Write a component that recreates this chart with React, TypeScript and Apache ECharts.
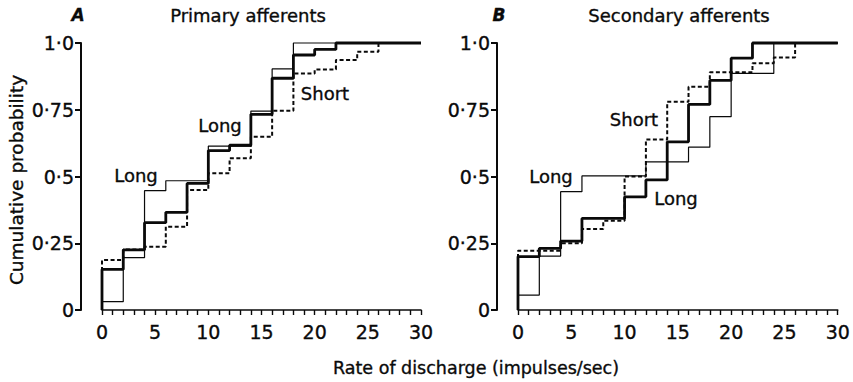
import React, { useEffect, useRef } from "react";
import * as echarts from "echarts";

// Bin left edges (impulses/sec) and cumulative probability per 2-imp/s bin
const binEdges = [0, 2, 4, 6, 8, 10, 12, 14, 16, 18, 20, 22, 24, 26, 28];
const xMax = 30;
const xLabelStep = 5;

// Panel A: Primary afferents
const primaryLongThin = [0.031, 0.196, 0.447, 0.484, 0.484, 0.614, 0.614, 0.745, 0.903, 1, 1, 1, 1, 1, 1];
const primaryLongThick = [0.152, 0.225, 0.327, 0.366, 0.474, 0.597, 0.617, 0.733, 0.868, 0.955, 0.976, 1, 1, 1, 1];
const primaryShort = [0.187, 0.227, 0.237, 0.312, 0.449, 0.512, 0.568, 0.649, 0.746, 0.886, 0.901, 0.936, 0.967, 1, 1];

// Panel B: Secondary afferents
const secondaryLongThin = [0.056, 0.202, 0.443, 0.502, 0.502, 0.502, 0.555, 0.555, 0.61, 0.724, 0.886, 0.886, 1, 1, 1];
const secondaryLongThick = [0.2, 0.231, 0.258, 0.343, 0.343, 0.424, 0.487, 0.63, 0.77, 0.86, 0.943, 1, 1, 1, 1];
const secondaryShort = [0.222, 0.222, 0.25, 0.303, 0.334, 0.5, 0.639, 0.78, 0.836, 0.89, 0.89, 0.924, 0.946, 1, 1];

const yTickValues = [0, 0.25, 0.5, 0.75, 1];
const yTickLabels = ["0", "0·25", "0·5", "0·75", "1·0"];

const FONT = '"DejaVu Sans", "Liberation Sans", sans-serif';
const INK = "#0a0a0a";
const HEAVY = 0.35;

function stepData(values: number[]) {
  const pts: number[][] = [[binEdges[0], 0]];
  values.forEach((v, i) => pts.push([binEdges[i], v]));
  pts.push([xMax, values[values.length - 1]]);
  return pts;
}

function lineSeries(values: number[], idx: number, kind: "thin" | "thick" | "dash") {
  const style: any = { color: INK };
  if (kind === "thin") style.width = 1.2;
  if (kind === "thick") style.width = 2.8;
  if (kind === "dash") {
    style.width = 2;
    style.type = [4, 2.5];
  }
  return {
    type: "line",
    xAxisIndex: idx,
    yAxisIndex: idx,
    data: stepData(values),
    step: "end",
    symbol: "none",
    clip: false,
    lineStyle: style,
    z: kind === "thick" ? 4 : 3,
  };
}

function xAxisCfg(gridIndex: number) {
  return {
    type: "value",
    gridIndex,
    position: "bottom",
    min: 0,
    max: xMax,
    interval: 1,
    axisLine: { show: true, onZero: false, lineStyle: { color: INK, width: 1.6 } },
    axisTick: { show: true, length: 5, lineStyle: { color: INK, width: 1.4 } },
    axisLabel: {
      fontSize: 19,
      margin: 12,
      color: INK,
      fontFamily: FONT,
      textBorderColor: INK,
      textBorderWidth: HEAVY,
      formatter: (v: number) => (Math.round(v) % xLabelStep === 0 ? String(Math.round(v)) : ""),
    },
    splitLine: { show: false },
  };
}

function yAxisCfg(gridIndex: number) {
  return {
    type: "value",
    gridIndex,
    position: "left",
    min: 0,
    max: 1,
    interval: 0.25,
    offset: 21,
    axisLine: { show: true, onZero: false, lineStyle: { color: INK, width: 2 } },
    axisTick: { show: true, length: 6, lineStyle: { color: INK, width: 2 } },
    axisLabel: {
      fontSize: 19,
      margin: 7,
      color: INK,
      fontFamily: FONT,
      textBorderColor: INK,
      textBorderWidth: HEAVY,
      formatter: (v: number) => {
        const i = yTickValues.findIndex((t) => Math.abs(t - v) < 1e-9);
        return i >= 0 ? yTickLabels[i] : "";
      },
    },
    splitLine: { show: false },
  };
}

function txt(x: number, y: number, text: string, size: number, extra: any = {}) {
  return {
    type: "text",
    x,
    y,
    silent: true,
    style: {
      text,
      fill: INK,
      stroke: INK,
      lineWidth: HEAVY,
      font: `${extra.italic ? "italic " : ""}${extra.bold ? "bold " : ""}${size}px ${FONT}`,
      align: "center",
      verticalAlign: "middle",
    },
    rotation: extra.rotation || 0,
  };
}

export default function App() {
  const ref = useRef<HTMLDivElement>(null);
  useEffect(() => {
    if (!ref.current) return;
    const chart = echarts.init(ref.current, undefined, { renderer: "svg" });
    chart.setOption({
      animation: false,
      backgroundColor: "#fff",
      grid: [
        { left: 102, top: 43, width: 319, height: 267 },
        { left: 518, top: 43, width: 320, height: 267 },
      ],
      xAxis: [xAxisCfg(0), xAxisCfg(1)],
      yAxis: [yAxisCfg(0), yAxisCfg(1)],
      series: [
        lineSeries(primaryLongThin, 0, "thin"),
        lineSeries(primaryShort, 0, "dash"),
        lineSeries(primaryLongThick, 0, "thick"),
        lineSeries(secondaryLongThin, 1, "thin"),
        lineSeries(secondaryShort, 1, "dash"),
        lineSeries(secondaryLongThick, 1, "thick"),
      ],
      graphic: [
        txt(78, 15, "A", 17, { italic: true, bold: true }),
        txt(248, 15, "Primary afferents", 18),
        txt(499, 15, "B", 17, { italic: true, bold: true }),
        txt(679, 15, "Secondary afferents", 18),
        txt(16, 180, "Cumulative probability", 18.5, { rotation: Math.PI / 2 }),
        txt(476, 368, "Rate of discharge (impulses/sec)", 17.5),
        txt(136, 175, "Long", 18),
        txt(220, 125, "Long", 18),
        txt(325, 93, "Short", 18),
        txt(551, 176, "Long", 18),
        txt(634, 119, "Short", 18),
        txt(676, 198, "Long", 18),
      ],
    });
    return () => chart.dispose();
  }, []);
  return (
    <div
      ref={ref}
      style={{ position: "absolute", left: 0, top: 0, width: 853, height: 382, background: "#fff" }}
    />
  );
}
